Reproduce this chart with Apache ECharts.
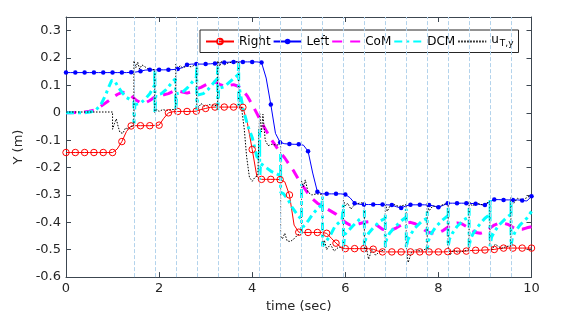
<!DOCTYPE html>
<html>
<head>
<meta charset="utf-8">
<script src="https://cdn.jsdelivr.net/npm/echarts/dist/echarts.min.js"></script>
<style>html,body{margin:0;padding:0;background:#fff}#c{width:574px;height:318px}</style>
</head>
<body>
<div id="c"></div>
<script>
// sample times (0.1 s grid) for foot series; markers every 0.2 s
const footTimes = Array.from({length: 101}, (_, i) => +(i * 0.1).toFixed(1));

const rightY = [
  -0.145,-0.145,-0.145,-0.145,-0.145,-0.145,-0.145,-0.145,-0.145,-0.145,
  -0.145,-0.132,-0.105,-0.068,-0.048,-0.047,-0.047,-0.047,-0.047,-0.046,
  -0.045,-0.02,0.0,0.004,0.005,0.005,0.005,0.005,0.006,0.012,
  0.016,0.02,0.021,0.021,0.021,0.021,0.021,0.021,0.02,-0.04,
  -0.134,-0.232,-0.243,-0.243,-0.243,-0.243,-0.244,-0.252,-0.3,-0.41,
  -0.436,-0.437,-0.437,-0.437,-0.437,-0.437,-0.44,-0.458,-0.476,-0.49,
  -0.496,-0.496,-0.496,-0.496,-0.496,-0.496,-0.498,-0.505,-0.508,-0.508,
  -0.508,-0.508,-0.508,-0.508,-0.508,-0.508,-0.508,-0.508,-0.508,-0.508,
  -0.508,-0.508,-0.507,-0.506,-0.505,-0.505,-0.505,-0.503,-0.502,-0.502,
  -0.501,-0.5,-0.499,-0.496,-0.494,-0.494,-0.494,-0.494,-0.494,-0.494,
  -0.494
];

const leftY = [
  0.147,0.147,0.147,0.147,0.147,0.147,0.147,0.147,0.147,0.147,
  0.147,0.147,0.147,0.147,0.148,0.149,0.152,0.156,0.157,0.157,
  0.157,0.157,0.157,0.158,0.16,0.165,0.176,0.178,0.178,0.178,
  0.178,0.179,0.18,0.182,0.184,0.185,0.186,0.186,0.186,0.186,
  0.186,0.186,0.184,0.127,0.03,-0.075,-0.108,-0.113,-0.114,-0.115,
  -0.115,-0.118,-0.14,-0.22,-0.288,-0.296,-0.296,-0.296,-0.296,-0.296,
  -0.298,-0.31,-0.33,-0.334,-0.335,-0.335,-0.335,-0.335,-0.335,-0.336,
  -0.337,-0.343,-0.348,-0.34,-0.336,-0.336,-0.336,-0.336,-0.337,-0.34,
  -0.345,-0.338,-0.33,-0.33,-0.33,-0.33,-0.33,-0.331,-0.332,-0.335,
  -0.337,-0.325,-0.317,-0.317,-0.318,-0.318,-0.318,-0.318,-0.32,-0.322,
  -0.305
];

const comY = [
  0,0,0.001,0.002,0.003,0.006,0.01,0.018,0.03,0.042,
  0.055,0.067,0.075,0.073,0.062,0.047,0.037,0.036,0.045,0.057,
  0.065,0.066,0.07,0.078,0.08,0.076,0.072,0.077,0.087,0.093,
  0.102,0.11,0.113,0.104,0.097,0.1,0.103,0.097,0.082,0.06,
  0.03,-0.002,-0.035,-0.065,-0.095,-0.12,-0.145,-0.165,-0.19,-0.215,
  -0.245,-0.27,-0.295,-0.315,-0.33,-0.34,-0.35,-0.36,-0.37,-0.385,
  -0.4,-0.41,-0.41,-0.405,-0.4,-0.398,-0.402,-0.413,-0.425,-0.43,
  -0.428,-0.42,-0.41,-0.403,-0.4,-0.405,-0.415,-0.428,-0.437,-0.44,
  -0.438,-0.43,-0.418,-0.405,-0.402,-0.405,-0.415,-0.428,-0.437,-0.44,
  -0.435,-0.422,-0.41,-0.403,-0.403,-0.408,-0.418,-0.425,-0.425,-0.42,
  -0.416
];

const dcmT = [
  0,0.4,0.55,0.65,0.75,0.85,0.92,0.98,1.04,1.12,1.2,1.3,1.4,1.46,1.46,1.48,
  1.6,1.7,1.8,1.9,1.91,1.91,1.93,
  2.05,2.15,2.25,2.35,2.36,2.36,2.38,
  2.5,2.6,2.7,2.8,2.81,2.81,2.83,
  2.95,3.05,3.15,3.25,3.26,3.26,3.28,
  3.4,3.5,3.6,3.7,3.71,3.71,3.73,
  3.81,3.91,4.0,4.1,4.16,4.16,4.16,4.18,
  4.3,4.42,4.53,4.61,4.61,4.61,
  4.67,4.77,4.85,4.96,5.06,5.06,5.06,
  5.1,5.2,5.3,5.4,5.5,5.51,5.51,
  5.56,5.67,5.78,5.93,5.96,5.96,5.96,
  5.99,6.06,6.15,6.3,6.41,6.41,6.41,
  6.44,6.5,6.6,6.75,6.86,6.86,6.86,
  6.89,6.95,7.05,7.2,7.31,7.31,7.31,
  7.34,7.4,7.5,7.65,7.76,7.76,7.76,
  7.79,7.85,7.95,8.1,8.21,8.21,8.21,
  8.24,8.3,8.4,8.55,8.66,8.66,8.66,
  8.69,8.75,8.85,9.0,9.11,9.11,9.11,
  9.14,9.2,9.3,9.45,9.56,9.56,9.56,
  9.59,9.65,9.75,9.9,10
];
const dcmY = [
  0,0,0.004,0.012,0.03,0.065,0.095,0.118,0.118,0.095,0.075,0.056,0.046,0.042,-0.04,0.03,
  0.035,0.05,0.07,0.1,0.157,0.0,0.065,
  0.07,0.085,0.105,0.125,0.125,0.01,0.07,
  0.075,0.09,0.11,0.13,0.18,0.01,0.065,
  0.07,0.085,0.105,0.125,0.17,0.01,0.09,
  0.095,0.11,0.125,0.14,0.185,0.025,0.085,
  0.01,-0.05,-0.09,-0.16,-0.17,-0.06,-0.245,-0.185,
  -0.2,-0.215,-0.223,-0.23,-0.15,-0.29,
  -0.295,-0.317,-0.343,-0.37,-0.39,-0.26,-0.44,
  -0.415,-0.395,-0.37,-0.35,-0.335,-0.306,-0.487,
  -0.476,-0.45,-0.414,-0.39,-0.385,-0.336,-0.49,
  -0.444,-0.432,-0.415,-0.39,-0.38,-0.354,-0.487,
  -0.46,-0.44,-0.42,-0.395,-0.385,-0.366,-0.49,
  -0.46,-0.44,-0.42,-0.395,-0.38,-0.35,-0.493,
  -0.465,-0.445,-0.42,-0.395,-0.385,-0.36,-0.5,
  -0.465,-0.44,-0.415,-0.39,-0.375,-0.342,-0.487,
  -0.46,-0.44,-0.415,-0.39,-0.38,-0.348,-0.49,
  -0.46,-0.44,-0.415,-0.385,-0.37,-0.318,-0.487,
  -0.455,-0.435,-0.41,-0.385,-0.37,-0.318,-0.487,
  -0.455,-0.435,-0.41,-0.385,-0.36
];

const uT = [
  0,0.5,1.0,1.0,1.04,1.08,1.12,1.16,1.22,1.28,1.34,1.4,1.46,1.46,
  1.5,1.54,1.58,1.63,1.68,1.75,1.83,1.91,1.91,
  1.95,2.0,2.08,2.16,2.25,2.36,2.36,
  2.4,2.45,2.5,2.6,2.7,2.81,2.81,
  2.85,2.9,2.98,3.08,3.18,3.26,3.26,
  3.3,3.34,3.4,3.48,3.58,3.71,3.71,
  3.77,3.83,3.88,3.94,4.0,4.06,4.12,4.16,4.16,
  4.2,4.23,4.28,4.34,4.42,4.52,4.61,4.61,
  4.65,4.7,4.75,4.82,4.9,4.98,5.06,5.06,
  5.1,5.14,5.2,5.28,5.38,5.51,5.51,
  5.55,5.6,5.68,5.76,5.86,5.96,5.96,
  6.0,6.05,6.12,6.2,6.3,6.41,6.41,
  6.45,6.5,6.57,6.65,6.75,6.86,6.86,
  6.9,6.96,7.05,7.15,7.25,7.31,7.31,
  7.35,7.42,7.5,7.62,7.76,7.76,
  7.8,7.88,7.98,8.1,8.21,8.21,
  8.25,8.32,8.42,8.55,8.66,8.66,
  8.72,8.82,8.95,9.11,9.11,
  9.15,9.22,9.35,9.47,9.56,9.56,
  9.62,9.7,9.8,9.9,10
];
const uY = [
  0.003,0.003,0.003,-0.06,-0.04,-0.022,-0.05,-0.072,-0.075,-0.055,-0.06,-0.05,-0.048,0.19,
  0.165,0.185,0.16,0.175,0.17,0.162,0.158,0.158,0.0,
  0.012,0.005,0.012,0.008,0.012,0.012,0.178,
  0.16,0.172,0.165,0.17,0.168,0.18,0.03,
  0.02,0.034,0.024,0.03,0.026,0.028,0.19,
  0.17,0.188,0.175,0.182,0.186,0.186,0.02,
  0.02,-0.06,-0.16,-0.235,-0.25,-0.235,-0.23,-0.235,0.0,
  -0.07,-0.005,-0.1,-0.12,-0.115,-0.118,-0.115,-0.45,
  -0.46,-0.44,-0.468,-0.47,-0.46,-0.445,-0.445,-0.25,
  -0.27,-0.245,-0.29,-0.3,-0.296,-0.298,-0.49,
  -0.465,-0.5,-0.48,-0.505,-0.49,-0.495,-0.32,
  -0.34,-0.33,-0.352,-0.335,-0.33,-0.328,-0.51,
  -0.49,-0.535,-0.5,-0.52,-0.505,-0.5,-0.33,
  -0.36,-0.34,-0.335,-0.342,-0.338,-0.335,-0.49,
  -0.547,-0.51,-0.5,-0.505,-0.495,-0.33,
  -0.358,-0.34,-0.345,-0.335,-0.33,-0.49,
  -0.52,-0.5,-0.51,-0.505,-0.5,-0.322,
  -0.34,-0.33,-0.336,-0.324,-0.48,
  -0.5,-0.48,-0.495,-0.488,-0.486,-0.306,
  -0.33,-0.312,-0.318,-0.31,-0.3
];

const switchTimes = [1.46,1.91,2.36,2.81,3.26,3.71,4.16,4.61,5.06,5.51,5.96,6.41,6.86,7.31,7.76,8.21,8.66,9.11,9.56];
const xTicks = {min: 0, max: 10, interval: 2};
const yTicks = {min: -0.6, max: 0.35, interval: 0.1};

const FONT = 'DejaVu Sans';
const AX = '#3c4650';

const pair = (ts, ys) => ts.map((t, i) => [t, ys[i]]);
const footData = (ys) => ys.map((v, i) => ({value: [footTimes[i], v], symbol: i % 2 === 0 ? 'circle' : 'none'}));

const chart = echarts.init(document.getElementById('c'), null, {renderer: 'canvas'});
const axisCommon = {
  axisLine: {show: true, onZero: false, lineStyle: {color: AX, width: 1}},
  axisTick: {show: true, inside: true, length: 5, lineStyle: {color: AX}},
  splitLine: {show: false}
};
const noMark = {color: 'rgba(0,0,0,0)', borderWidth: 0, borderColor: 'rgba(0,0,0,0)'};
chart.setOption({
  animation: false,
  backgroundColor: '#fff',
  grid: {left: 66, right: 42.5, top: 17, bottom: 37, containLabel: false},
  legend: {
    left: 200, top: 30,
    itemWidth: 28, itemHeight: 7, itemGap: 2,
    padding: [4, 5, 4, 5],
    borderColor: '#262626', borderWidth: 1, backgroundColor: '#fff',
    data: [
      {name: 'Right'},
      {name: 'Left'},
      {name: 'CoM', itemStyle: noMark},
      {name: 'DCM', itemStyle: noMark},
      {name: 'uTy', itemStyle: noMark}
    ],
    formatter: (n) => n === 'uTy' ? '{u|u}{s|T,y}' : n,
    textStyle: {
      fontFamily: FONT, fontSize: 12, color: '#000',
      rich: {u: {fontFamily: FONT, fontSize: 12, color: '#000', padding: [0, 0, 3, 0]},
             s: {fontFamily: FONT, fontSize: 9, color: '#000', padding: [5, 0, 0, 1]}}
    }
  },
  xAxis: [
    Object.assign({type: 'value', position: 'bottom', min: xTicks.min, max: xTicks.max, interval: xTicks.interval,
      name: 'time (sec)', nameLocation: 'middle', nameGap: 21,
      nameTextStyle: {fontFamily: FONT, fontSize: 13, color: '#262626'},
      axisLabel: {fontFamily: FONT, fontSize: 13, color: '#262626', margin: 5}}, axisCommon),
    Object.assign({type: 'value', position: 'top', min: xTicks.min, max: xTicks.max, interval: xTicks.interval,
      axisLabel: {show: false}}, axisCommon)
  ],
  yAxis: [
    Object.assign({type: 'value', position: 'left', min: yTicks.min, max: yTicks.max, interval: yTicks.interval,
      name: 'Y (m)', nameLocation: 'middle', nameGap: 33,
      nameTextStyle: {fontFamily: FONT, fontSize: 13, color: '#262626'},
      axisLabel: {fontFamily: FONT, fontSize: 13, color: '#262626', margin: 5, showMaxLabel: false,
        formatter: (v) => (Math.round(v * 10) / 10).toString()}}, axisCommon),
    Object.assign({type: 'value', position: 'right', min: yTicks.min, max: yTicks.max, interval: yTicks.interval,
      axisLabel: {show: false}}, axisCommon)
  ],
  series: [
    {
      name: 'switch', type: 'line', data: [], z: 1, silent: true,
      markLine: {
        silent: true, symbol: ['none', 'none'], label: {show: false},
        lineStyle: {color: '#b3d3ec', width: 1, type: [4, 2]},
        data: switchTimes.map(t => ({xAxis: t}))
      }
    },
    {
      name: 'Right', type: 'line', data: footData(rightY), z: 2,
      symbol: 'circle', symbolSize: 6.5, showSymbol: true,
      lineStyle: {color: '#ff0000', width: 1},
      itemStyle: {color: 'rgba(255,255,255,0)', borderColor: '#ff0000', borderWidth: 1}
    },
    {
      name: 'Left', type: 'line', data: footData(leftY), z: 2,
      symbol: 'circle', symbolSize: 4.5, showSymbol: true,
      lineStyle: {color: '#0000ff', width: 1},
      itemStyle: {color: '#0000ff'}
    },
    {
      name: 'CoM', type: 'line', data: pair(footTimes, comY), z: 2,
      symbol: 'none', showSymbol: false,
      lineStyle: {color: '#ff00ff', width: 3, type: [10, 8]},
      itemStyle: {color: '#ff00ff'}
    },
    {
      name: 'DCM', type: 'line', data: pair(dcmT, dcmY), z: 2,
      symbol: 'none', showSymbol: false,
      lineStyle: {color: '#00ffff', width: 3, type: [8, 4, 3, 4]},
      itemStyle: {color: '#00ffff'}
    },
    {
      name: 'uTy', type: 'line', data: pair(uT, uY), z: 2,
      symbol: 'none', showSymbol: false,
      lineStyle: {color: '#000000', width: 1, type: [1.5, 1.5]},
      itemStyle: {color: '#000000'}
    }
  ]
});
</script>
</body>
</html>
